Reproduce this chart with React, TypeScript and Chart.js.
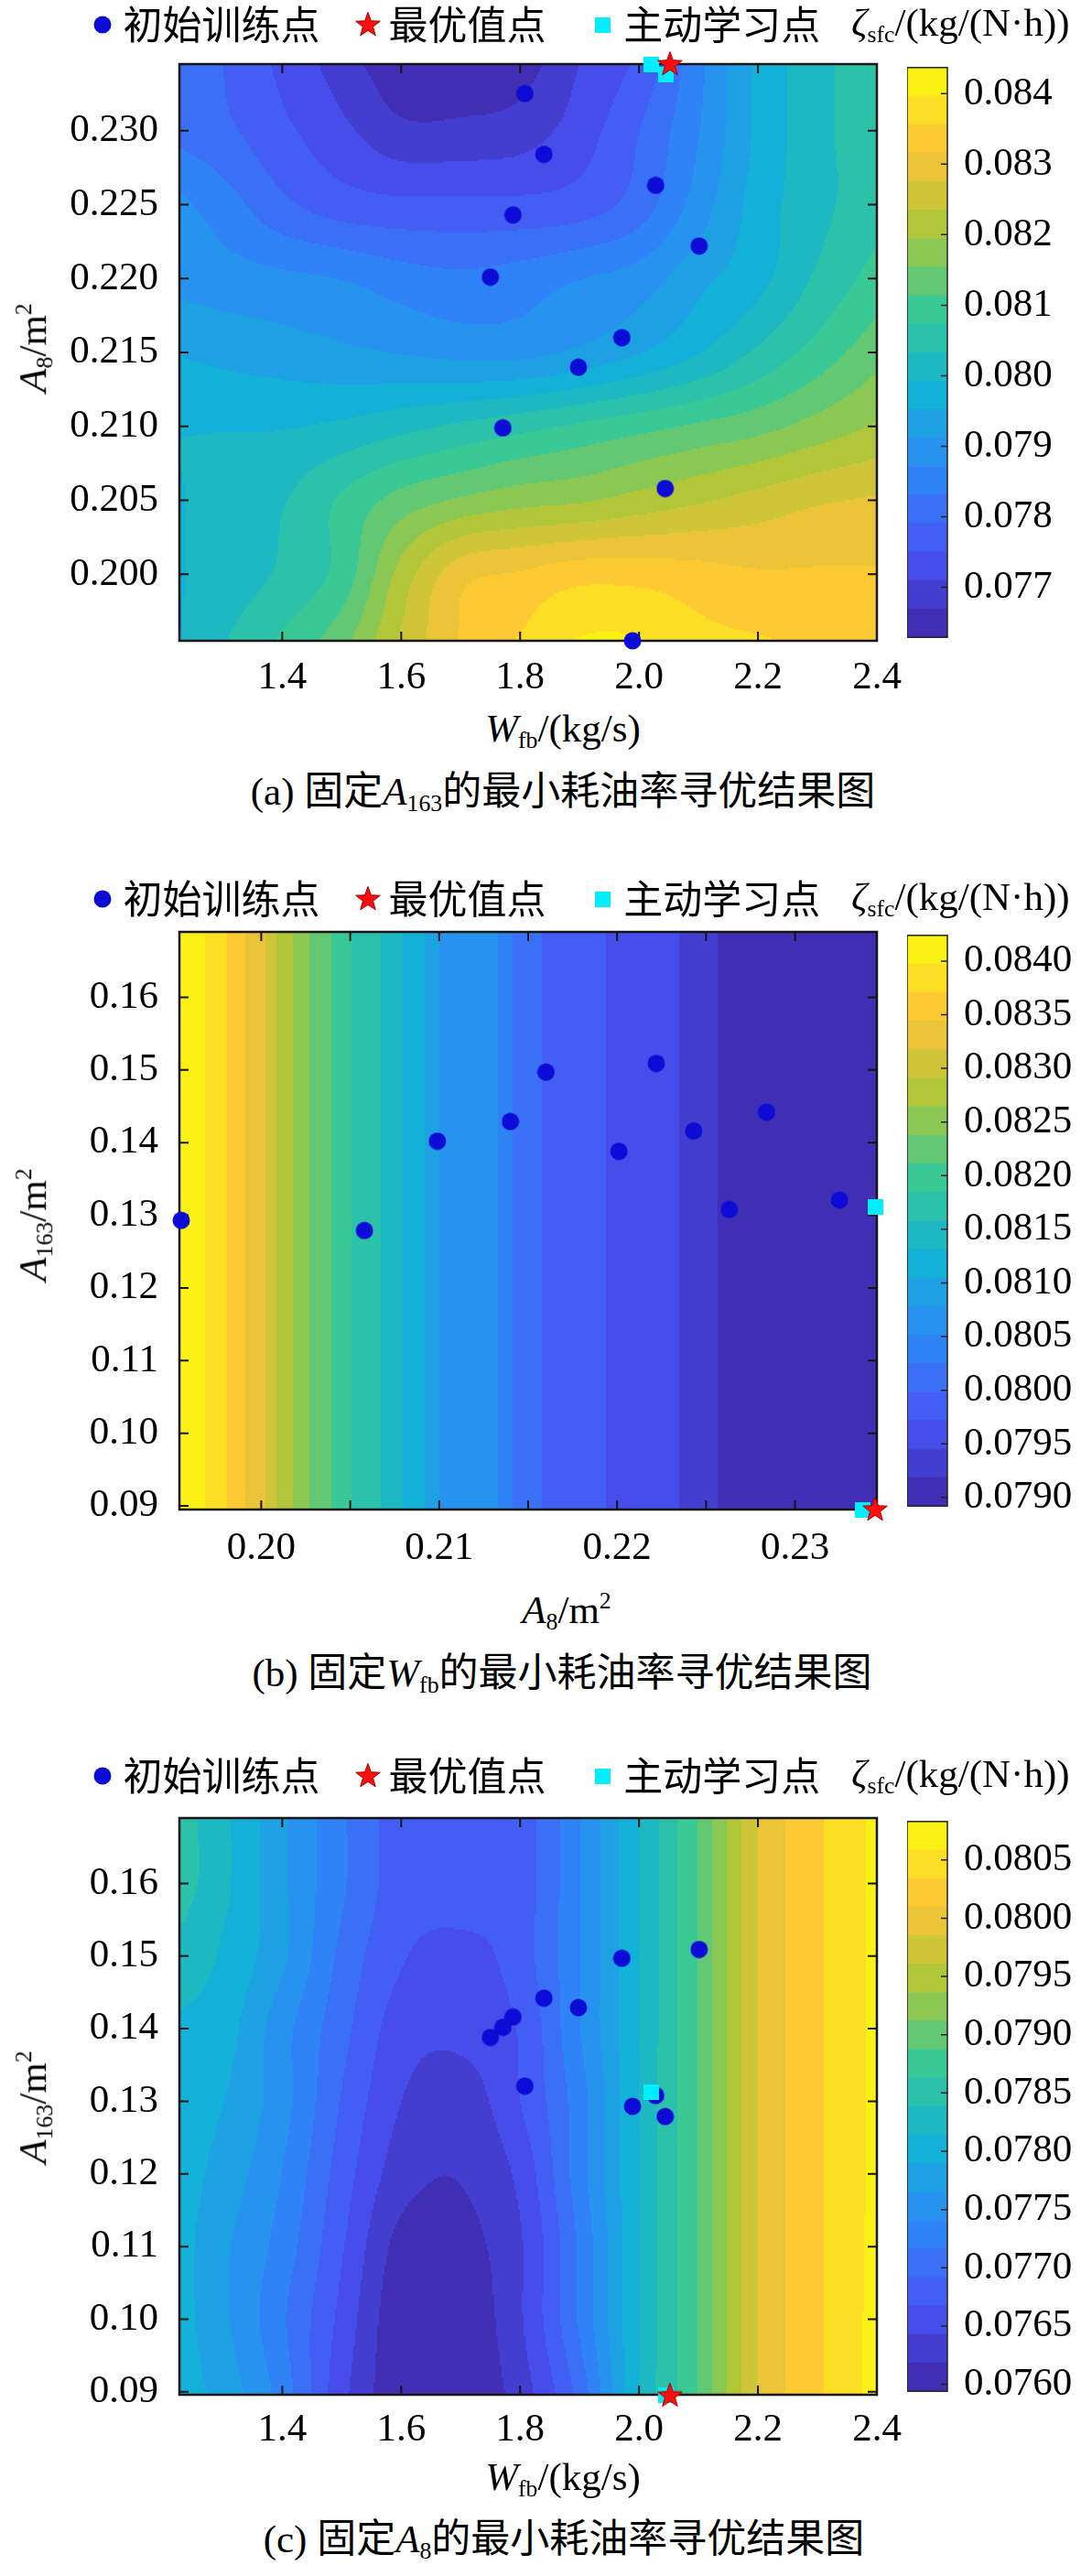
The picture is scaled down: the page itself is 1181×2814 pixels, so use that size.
import React, { useEffect, useRef } from 'react';
import { Chart, registerables } from 'chart.js';

Chart.register(...registerables);

// ---------------- data ----------------
const LEGEND_TRAIN = '初始训练点';
const LEGEND_OPT = '最优值点 ';
const LEGEND_ACTIVE = '主动学习点';

// initial training samples (projections of the same samples in every panel)
const TRAIN_WFB = [1.808, 1.840, 2.028, 1.788, 2.101, 1.750, 1.971, 1.898, 1.771, 2.044, 1.989];
const TRAIN_A8 = [0.2325, 0.2284, 0.2263, 0.2243, 0.2222, 0.2201, 0.2160, 0.2140, 0.2099, 0.2058, 0.1955];
const TRAIN_A163 = [0.1321, 0.1442, 0.1308, 0.1416, 0.1509, 0.1388, 0.1497, 0.1429, 0.1402, 0.1279, 0.1293];

// active-learning samples
const ACTIVE_WFB = [2.02, 2.045];
const ACTIVE_A8 = [0.2345, 0.2338];
const ACTIVE_A163 = [0.1312, 0.0895];

// optimum
const OPT_WFB = [2.052];
const OPT_A8 = [0.2345];
const OPT_A163 = [0.0895];

// panel (a): zeta field over Wfb (columns) x A8 (rows, ascending)
const A_GRID_WFB = [1.227, 1.3, 1.4, 1.5, 1.6, 1.7, 1.8, 1.9, 2.0, 2.1, 2.2, 2.3, 2.4];
const A_GRID_A8 = [0.1955, 0.200, 0.205, 0.210, 0.215, 0.220, 0.225, 0.230, 0.2345];
const A_GRID_ZETA = [
  [0.0799, 0.0803, 0.0808, 0.0814, 0.0824, 0.0832, 0.0836, 0.0840, 0.0840, 0.0837, 0.0836, 0.0835, 0.0835],
  [0.0799, 0.0801, 0.0804, 0.0809, 0.0821, 0.0830, 0.0832, 0.0834, 0.0834, 0.0833, 0.0832, 0.0832, 0.0832],
  [0.0799, 0.0801, 0.0803, 0.0808, 0.0813, 0.0816, 0.0818, 0.0819, 0.0821, 0.0823, 0.0825, 0.0827, 0.0828],
  [0.0799, 0.0799, 0.0799, 0.0800, 0.0802, 0.0804, 0.0806, 0.0808, 0.0810, 0.0812, 0.0814, 0.0817, 0.0820],
  [0.0795, 0.0794, 0.0793, 0.0792, 0.0791, 0.0790, 0.0790, 0.0792, 0.0795, 0.0799, 0.0804, 0.0809, 0.0814],
  [0.0790, 0.0789, 0.0788, 0.0787, 0.0785, 0.0784, 0.0785, 0.0787, 0.0789, 0.0794, 0.0798, 0.0804, 0.0809],
  [0.0788, 0.0785, 0.0780, 0.0777, 0.0776, 0.0776, 0.0776, 0.0777, 0.0781, 0.0789, 0.0797, 0.0802, 0.0806],
  [0.0782, 0.0780, 0.0776, 0.0772, 0.0768, 0.0768, 0.0769, 0.0773, 0.0779, 0.0787, 0.0796, 0.0802, 0.0806],
  [0.0781, 0.0779, 0.0774, 0.0769, 0.0764, 0.0764, 0.0765, 0.0771, 0.0776, 0.0786, 0.0796, 0.0802, 0.0806],
];

// panel (b): zeta depends on A8 only (vertical bands)
const B_PROFILE_A8 = [0.1954, 0.1969, 0.1981, 0.1991, 0.2002, 0.2009, 0.2018, 0.2027, 0.2039, 0.2050, 0.2067,
  0.2080, 0.2092, 0.2100, 0.2133, 0.2141, 0.2158, 0.2193, 0.2235, 0.2255, 0.2346];
const B_PROFILE_ZETA = [0.08420, 0.08397, 0.08371, 0.08344, 0.08318, 0.08291, 0.08264, 0.08238, 0.08211, 0.08185, 0.08158,
  0.08131, 0.08105, 0.08078, 0.08052, 0.08025, 0.07998, 0.07972, 0.07945, 0.07919, 0.07900];

// panel (c): zeta field over Wfb (columns) x A163 (rows, ascending)
const C_GRID_WFB = [1.227, 1.3, 1.4, 1.5, 1.6, 1.7, 1.8, 1.9, 2.0, 2.1, 2.2, 2.3, 2.4];
const C_GRID_A163 = [0.0896, 0.10, 0.11, 0.12, 0.13, 0.14, 0.15, 0.16, 0.169];
const C_GRID_ZETA = [
  [0.0780, 0.0778, 0.0773, 0.0765, 0.07600, 0.07598, 0.0763, 0.0770, 0.07815, 0.0789, 0.07985, 0.0803, 0.08068],
  [0.0780, 0.0777, 0.0772, 0.0766, 0.0760, 0.0760, 0.0764, 0.0772, 0.07815, 0.0789, 0.07985, 0.0803, 0.08067],
  [0.0780, 0.0777, 0.0773, 0.0767, 0.0761, 0.0761, 0.0764, 0.0772, 0.07815, 0.0789, 0.07985, 0.0803, 0.08066],
  [0.0780, 0.0778, 0.0774, 0.0768, 0.0763, 0.0762, 0.0765, 0.0773, 0.07815, 0.0789, 0.07985, 0.0803, 0.08065],
  [0.0780, 0.0779, 0.0775, 0.0769, 0.07643, 0.0763, 0.07667, 0.0773, 0.07815, 0.0789, 0.07985, 0.0803, 0.08065],
  [0.0781, 0.0780, 0.0775, 0.0770, 0.07655, 0.0765, 0.0767, 0.0774, 0.07815, 0.0789, 0.07985, 0.0803, 0.08065],
  [0.0783, 0.0781, 0.0777, 0.0771, 0.0767, 0.0766, 0.0768, 0.0774, 0.07815, 0.0789, 0.07985, 0.0803, 0.08065],
  [0.0785, 0.0782, 0.0777, 0.0772, 0.0768, 0.0768, 0.0768, 0.0774, 0.07815, 0.0789, 0.07985, 0.0803, 0.08065],
  [0.0785, 0.0782, 0.0777, 0.0772, 0.0768, 0.0768, 0.0768, 0.0774, 0.07815, 0.0789, 0.07985, 0.0803, 0.08065],
];

// colour-bar ranges and ticks
const A_CB_RANGE = [0.07629, 0.08437];
const A_CB_TICKS = [0.077, 0.078, 0.079, 0.080, 0.081, 0.082, 0.083, 0.084];
const B_CB_RANGE = [0.07892, 0.08424];
const B_CB_TICKS = [0.0790, 0.0795, 0.0800, 0.0805, 0.0810, 0.0815, 0.0820, 0.0825, 0.0830, 0.0835, 0.0840];
const C_CB_RANGE = [0.07594, 0.08083];
const C_CB_TICKS = [0.0760, 0.0765, 0.0770, 0.0775, 0.0780, 0.0785, 0.0790, 0.0795, 0.0800, 0.0805];
const BAND_COUNT = 20;

// axis ranges and ticks
const A_X_RANGE = [1.227, 2.4];
const A_Y_RANGE = [0.1955, 0.2345];
const A_X_TICKS = [1.4, 1.6, 1.8, 2.0, 2.2, 2.4];
const A_Y_TICKS = [0.200, 0.205, 0.210, 0.215, 0.220, 0.225, 0.230];
const B_X_RANGE = [0.1954, 0.2346];
const B_Y_RANGE = [0.0895, 0.169];
const B_X_TICKS = [0.200, 0.205, 0.210, 0.215, 0.220, 0.225, 0.230];
const B_Y_TICKS = [0.09, 0.10, 0.11, 0.12, 0.13, 0.14, 0.15, 0.16];
const C_X_RANGE = [1.227, 2.4];
const C_Y_RANGE = [0.0896, 0.169];
const C_X_TICKS = [1.4, 1.6, 1.8, 2.0, 2.2, 2.4];
const C_Y_TICKS = [0.09, 0.10, 0.11, 0.12, 0.13, 0.14, 0.15, 0.16];

// ---------------- styles ----------------
const SERIF = "'Liberation Serif', 'Times New Roman', serif";
const CJK = "'Noto Sans CJK SC', sans-serif";
const MIXED = "'Liberation Serif', 'Noto Sans CJK SC', serif";
const FONT_SIZE = 43;
const PAGE_W = 1181;
const PAGE_H = 2814;
const PLOT_LEFT = 196;
const PLOT_RIGHT = 958;
const CB_LEFT = 991;
const CB_RIGHT = 1035;
const LEGEND_PAD = 51.5;
const LEGEND_FIRST_X = 112;
const X_AXIS_H = 70;
const TRAIN_COLOR = 'rgb(12,12,214)';
const ACTIVE_COLOR = 'rgb(0,238,255)';
const PARULA_STOPS = [
  [62, 38, 168], [72, 82, 244], [46, 135, 247], [18, 177, 214],
  [55, 200, 151], [171, 199, 57], [254, 195, 56], [249, 251, 14],
];

function parula(t: number): string {
  const n = PARULA_STOPS.length - 1;
  const f = Math.max(0, Math.min(1, t)) * n;
  const i = Math.min(Math.floor(f), n - 1);
  const r = f - i;
  const a = PARULA_STOPS[i];
  const b = PARULA_STOPS[i + 1];
  const c = a.map((v, k) => Math.round(v + (b[k] - v) * r));
  return `rgb(${c[0]},${c[1]},${c[2]})`;
}
const BAND_COLORS = Array.from({ length: BAND_COUNT }, (_, k) => parula((k + 0.5) / BAND_COUNT));

function locate(xs: number[], x: number) {
  const n = xs.length;
  let i = 0;
  while (i < n - 2 && x > xs[i + 1]) i++;
  const t = Math.max(0, Math.min(1, (x - xs[i]) / (xs[i + 1] - xs[i])));
  return { i, t };
}
function interp1(xs: number[], vs: number[], x: number): number {
  const { i, t } = locate(xs, x);
  return vs[i] + t * (vs[i + 1] - vs[i]);
}
// smooth (Catmull-Rom) interpolation through the read values
function smooth1(xs: number[], vs: number[], x: number): number {
  const { i, t } = locate(xs, x);
  const n = vs.length;
  const p1 = vs[i];
  const p2 = vs[i + 1];
  const p0 = i > 0 ? vs[i - 1] : 2 * p1 - p2;
  const p3 = i + 2 < n ? vs[i + 2] : 2 * p2 - p1;
  const t2 = t * t;
  const t3 = t2 * t;
  return 0.5 * (2 * p1 + (-p0 + p2) * t + (2 * p0 - 5 * p1 + 4 * p2 - p3) * t2 + (-p0 + 3 * p1 - 3 * p2 + p3) * t3);
}
function gridField(xs: number[], ys: number[], grid: number[][]) {
  return (x: number, y: number) => smooth1(ys, grid.map((row) => smooth1(xs, row, x)), y);
}
type Field = (x: number, y: number) => number;

const fieldA: Field = gridField(A_GRID_WFB, A_GRID_A8, A_GRID_ZETA);
const fieldB: Field = (x: number) => interp1(B_PROFILE_A8, B_PROFILE_ZETA, x);
const fieldC: Field = gridField(C_GRID_WFB, C_GRID_A163, C_GRID_ZETA);

const pts = (xs: number[], ys: number[]) => xs.map((x, i) => ({ x, y: ys[i] }));

// ---------------- marker images ----------------
function makeDot() {
  const c = document.createElement('canvas');
  c.width = 20; c.height = 20;
  const g = c.getContext('2d')!;
  g.fillStyle = TRAIN_COLOR;
  g.beginPath(); g.arc(10, 10, 9.5, 0, Math.PI * 2); g.fill();
  return c;
}
function makeSquare() {
  const c = document.createElement('canvas');
  c.width = 17; c.height = 17;
  const g = c.getContext('2d')!;
  g.fillStyle = ACTIVE_COLOR;
  g.fillRect(0, 0, 17, 17);
  return c;
}
function makeStar() {
  const c = document.createElement('canvas');
  c.width = 30; c.height = 30;
  const g = c.getContext('2d')!;
  g.beginPath();
  for (let i = 0; i < 10; i++) {
    const r = i % 2 === 0 ? 14 : 5.8;
    const a = -Math.PI / 2 + (i * Math.PI) / 5;
    const x = 15 + r * Math.cos(a);
    const y = 15.5 + r * Math.sin(a);
    if (i === 0) g.moveTo(x, y); else g.lineTo(x, y);
  }
  g.closePath();
  g.fillStyle = '#ff0d0d';
  g.fill();
  g.strokeStyle = '#a00000';
  g.lineWidth = 1;
  g.stroke();
  return c;
}

// ---------------- panel config ----------------
interface PanelCfg {
  id: string;
  chartTop: number;
  chartBottom: number;
  legendY: number;
  xTickPad: number;
  xRange: number[];
  yRange: number[];
  xTicks: number[];
  yTicks: number[];
  xFmt: (v: number) => string;
  yFmt: (v: number) => string;
  train: { x: number; y: number }[];
  active: { x: number; y: number }[];
  opt: { x: number; y: number }[];
  field: Field;
  cbRange: number[];
  cbTicks: number[];
  cbFmt: (v: number) => string;
  xTitle: React.ReactNode;
  xTitlePos: number[];
  yTitle: React.ReactNode;
  yTitleY: number;
  caption: React.ReactNode;
  captionPos: number[];
}

const Sub = ({ children }: { children: React.ReactNode }) => (
  <span style={{ fontSize: '0.6em', verticalAlign: '-0.28em' }}>{children}</span>
);
const Sup = ({ children }: { children: React.ReactNode }) => (
  <span style={{ fontSize: '0.6em', verticalAlign: '0.62em' }}>{children}</span>
);
const W_FB = (<><i>W</i><Sub>fb</Sub>/(kg/s)</>);
const A8_M2 = (<><i>A</i><Sub>8</Sub>/m<Sup>2</Sup></>);
const A163_M2 = (<><i>A</i><Sub>163</Sub>/m<Sup>2</Sup></>);

const fmt = (d: number) => (v: number) => Number(v).toFixed(d);
const isMajorB = (v: number) => Math.abs(v * 100 - Math.round(v * 100)) < 1e-6;

const PANELS: PanelCfg[] = [
  {
    id: 'a', chartTop: 70, chartBottom: 700, legendY: 27, xTickPad: 14.7,
    xRange: A_X_RANGE, yRange: A_Y_RANGE, xTicks: A_X_TICKS, yTicks: A_Y_TICKS,
    xFmt: fmt(1), yFmt: fmt(3),
    train: pts(TRAIN_WFB, TRAIN_A8), active: pts(ACTIVE_WFB, ACTIVE_A8), opt: pts(OPT_WFB, OPT_A8),
    field: fieldA, cbRange: A_CB_RANGE, cbTicks: A_CB_TICKS, cbFmt: fmt(3),
    xTitle: W_FB, xTitlePos: [615, 798], yTitle: A8_M2, yTitleY: 380,
    caption: (<>(a) 固定<i>A</i><Sub>163</Sub>的最小耗油率寻优结果图</>), captionPos: [615, 867],
  },
  {
    id: 'b', chartTop: 1018, chartBottom: 1649, legendY: 982, xTickPad: 17.2,
    xRange: B_X_RANGE, yRange: B_Y_RANGE, xTicks: B_X_TICKS, yTicks: B_Y_TICKS,
    xFmt: (v: number) => (isMajorB(v) ? v.toFixed(2) : ''), yFmt: fmt(2),
    train: pts(TRAIN_A8, TRAIN_A163), active: pts(ACTIVE_A8, ACTIVE_A163), opt: pts(OPT_A8, OPT_A163),
    field: fieldB, cbRange: B_CB_RANGE, cbTicks: B_CB_TICKS, cbFmt: fmt(4),
    xTitle: A8_M2, xTitlePos: [619, 1761], yTitle: A163_M2, yTitleY: 1338,
    caption: (<>(b) 固定<i>W</i><Sub>fb</Sub>的最小耗油率寻优结果图</>), captionPos: [614, 1830],
  },
  {
    id: 'c', chartTop: 1986, chartBottom: 2616, legendY: 1940, xTickPad: 12.6,
    xRange: C_X_RANGE, yRange: C_Y_RANGE, xTicks: C_X_TICKS, yTicks: C_Y_TICKS,
    xFmt: fmt(1), yFmt: fmt(2),
    train: pts(TRAIN_WFB, TRAIN_A163), active: pts(ACTIVE_WFB, ACTIVE_A163), opt: pts(OPT_WFB, OPT_A163),
    field: fieldC, cbRange: C_CB_RANGE, cbTicks: C_CB_TICKS, cbFmt: fmt(4),
    xTitle: W_FB, xTitlePos: [615, 2708], yTitle: A163_M2, yTitleY: 2302,
    caption: (<>(c) 固定<i>A</i><Sub>8</Sub>的最小耗油率寻优结果图</>), captionPos: [616, 2776],
  },
];

// ---------------- plugins ----------------
function heatmapPlugin(field: Field, range: number[]) {
  const [lo, hi] = range;
  const bandOf = (v: number) => Math.max(0, Math.min(BAND_COUNT - 1, Math.floor(((v - lo) / (hi - lo)) * BAND_COUNT)));
  return {
    id: 'heatmapFrame',
    beforeDatasetsDraw(chart: any) {
      const { ctx, chartArea: a, scales } = chart;
      const xs = scales.x;
      const ys = scales.y;
      const S = 2;
      ctx.save();
      ctx.beginPath();
      ctx.rect(a.left, a.top, a.right - a.left, a.bottom - a.top);
      ctx.clip();
      const fill = (k: number, px: number, y0: number, y1: number) => {
        ctx.fillStyle = BAND_COLORS[k];
        ctx.fillRect(px, y0, S + 0.6, y1 - y0 + 0.6);
      };
      for (let px = a.left; px < a.right; px += S) {
        const xv = xs.getValueForPixel(Math.min(px + S / 2, a.right));
        let runBand = -1;
        let runStart = a.top;
        for (let py = a.top; py < a.bottom; py += S) {
          const yv = ys.getValueForPixel(Math.min(py + S / 2, a.bottom));
          const k = bandOf(field(xv, yv));
          if (k !== runBand) {
            if (runBand >= 0) fill(runBand, px, runStart, py);
            runBand = k;
            runStart = py;
          }
        }
        if (runBand >= 0) fill(runBand, px, runStart, a.bottom);
      }
      ctx.restore();

      // frame and inward tick marks
      ctx.save();
      ctx.strokeStyle = '#151515';
      ctx.lineWidth = 2.5;
      ctx.strokeRect(a.left, a.top, a.right - a.left, a.bottom - a.top);
      ctx.lineWidth = 2;
      const L = 10;
      ctx.beginPath();
      xs.ticks.forEach((t: any) => {
        const p = xs.getPixelForValue(t.value);
        ctx.moveTo(p, a.bottom); ctx.lineTo(p, a.bottom - L);
        ctx.moveTo(p, a.top); ctx.lineTo(p, a.top + L);
      });
      ys.ticks.forEach((t: any) => {
        const p = ys.getPixelForValue(t.value);
        ctx.moveTo(a.left, p); ctx.lineTo(a.left + L, p);
        ctx.moveTo(a.right, p); ctx.lineTo(a.right - L, p);
      });
      ctx.stroke();
      ctx.restore();
    },
  };
}

const colorbarFramePlugin = {
  id: 'cbFrame',
  afterDatasetsDraw(chart: any) {
    const { ctx, chartArea: a, scales } = chart;
    ctx.save();
    ctx.strokeStyle = '#222';
    ctx.lineWidth = 1.5;
    ctx.strokeRect(a.left, a.top, a.right - a.left, a.bottom - a.top);
    ctx.beginPath();
    scales.y.ticks.forEach((t: any) => {
      const p = scales.y.getPixelForValue(t.value);
      ctx.moveTo(a.right, p); ctx.lineTo(a.right - 7, p);
    });
    ctx.stroke();
    ctx.restore();
  },
};

// ---------------- components ----------------
const TextAt = ({ x, y, rotate, family, children }: { x: number; y: number; rotate?: boolean; family?: string; children: React.ReactNode }) => (
  <div
    style={{
      position: 'absolute', left: x, top: y,
      transform: `translate(-50%, -50%)${rotate ? ' rotate(-90deg)' : ''}`,
      whiteSpace: 'nowrap', fontFamily: family || SERIF, fontSize: FONT_SIZE, lineHeight: 1.1, color: '#000',
    }}
  >
    {children}
  </div>
);

function Panel({ cfg }: { cfg: PanelCfg }) {
  const mainRef = useRef<HTMLCanvasElement>(null);
  const cbRef = useRef<HTMLCanvasElement>(null);

  const canvasTop = cfg.legendY - LEGEND_PAD - FONT_SIZE / 2;
  const mainH = cfg.chartBottom - canvasTop + X_AXIS_H;
  const gap = cfg.chartTop - cfg.legendY - (FONT_SIZE / 2 + 10);
  const padLeft = LEGEND_FIRST_X - 1 - LEGEND_PAD;
  const cbPad = 40;
  const cbH = cfg.chartBottom - cfg.chartTop + 2 * cbPad;

  useEffect(() => {
    const dot = makeDot();
    const star = makeStar();
    const square = makeSquare();
    const tickFont = { family: SERIF, size: FONT_SIZE };
    const legendRank = [1, 2, 0];

    const main = new Chart(mainRef.current!, {
      type: 'scatter',
      data: {
        datasets: [
          { label: LEGEND_OPT, data: cfg.opt, pointStyle: star as any, pointRadius: 14, clip: false as any },
          { label: LEGEND_ACTIVE, data: cfg.active, pointStyle: square as any, pointRadius: 9, clip: false as any },
          { label: LEGEND_TRAIN, data: cfg.train, pointStyle: dot as any, pointRadius: 10, clip: false as any },
        ],
      },
      options: {
        animation: false,
        responsive: false,
        maintainAspectRatio: false,
        events: [],
        layout: { padding: { left: padLeft, right: PAGE_W - PLOT_RIGHT, top: 0, bottom: 0 } },
        plugins: {
          tooltip: { enabled: false },
          legend: {
            display: true,
            position: 'top',
            align: 'start',
            labels: {
              usePointStyle: true,
              pointStyleWidth: 2,
              padding: LEGEND_PAD,
              color: '#000',
              font: { family: CJK, size: FONT_SIZE },
              sort: (a: any, b: any) => legendRank[a.datasetIndex] - legendRank[b.datasetIndex],
            },
          },
        },
        scales: {
          x: {
            type: 'linear', position: 'bottom', min: cfg.xRange[0], max: cfg.xRange[1],
            grid: { display: false, drawTicks: false }, border: { display: false },
            ticks: {
              autoSkip: false, maxRotation: 0, padding: cfg.xTickPad, color: '#000', font: tickFont,
              callback: (v: any) => cfg.xFmt(Number(v)),
            },
            afterBuildTicks: (axis: any) => { axis.ticks = cfg.xTicks.map((v) => ({ value: v })); },
            afterFit: (s: any) => { s.height = X_AXIS_H; },
          },
          xTop: {
            type: 'linear', position: 'top', display: true,
            grid: { display: false, drawTicks: false }, border: { display: false },
            ticks: { display: false },
            afterFit: (s: any) => { s.height = gap; },
          },
          y: {
            type: 'linear', position: 'left', min: cfg.yRange[0], max: cfg.yRange[1],
            grid: { display: false, drawTicks: false }, border: { display: false },
            ticks: {
              autoSkip: false, padding: 23, color: '#000', font: tickFont,
              callback: (v: any) => cfg.yFmt(Number(v)),
            },
            afterBuildTicks: (axis: any) => { axis.ticks = cfg.yTicks.map((v) => ({ value: v })); },
            afterFit: (s: any) => { s.width = PLOT_LEFT - padLeft; },
          },
        } as any,
      },
      plugins: [heatmapPlugin(cfg.field, cfg.cbRange)],
    } as any);

    const edges = Array.from({ length: BAND_COUNT + 1 }, (_, k) => cfg.cbRange[0] + ((cfg.cbRange[1] - cfg.cbRange[0]) * k) / BAND_COUNT);
    const cb = new Chart(cbRef.current!, {
      type: 'bar',
      data: {
        labels: [''],
        datasets: BAND_COLORS.map((c, k) => ({
          data: [[edges[k], edges[k + 1]]],
          backgroundColor: c,
          borderWidth: 0,
          grouped: false,
          barPercentage: 1,
          categoryPercentage: 1,
        })),
      },
      options: {
        animation: false,
        responsive: false,
        maintainAspectRatio: false,
        events: [],
        layout: { padding: { top: cbPad, bottom: cbPad, left: 0, right: 0 } },
        plugins: { legend: { display: false }, tooltip: { enabled: false } },
        scales: {
          x: { display: false },
          y: {
            position: 'right', min: cfg.cbRange[0], max: cfg.cbRange[1],
            grid: { display: false, drawTicks: false }, border: { display: false },
            ticks: {
              autoSkip: false, padding: 18, color: '#000', font: tickFont,
              callback: (v: any) => cfg.cbFmt(Number(v)),
            },
            afterBuildTicks: (axis: any) => { axis.ticks = cfg.cbTicks.map((v) => ({ value: v })); },
            afterFit: (s: any) => { s.width = PAGE_W - CB_RIGHT; },
          },
        } as any,
      },
      plugins: [colorbarFramePlugin],
    } as any);

    return () => {
      main.destroy();
      cb.destroy();
    };
  }, []);

  return (
    <>
      <canvas
        ref={mainRef}
        width={PAGE_W}
        height={mainH}
        style={{ position: 'absolute', left: 0, top: canvasTop, width: PAGE_W, height: mainH }}
      />
      <canvas
        ref={cbRef}
        width={PAGE_W - CB_LEFT}
        height={cbH}
        style={{ position: 'absolute', left: CB_LEFT, top: cfg.chartTop - cbPad, width: PAGE_W - CB_LEFT, height: cbH }}
      />
      <div
        style={{
          position: 'absolute', left: 930, top: cfg.legendY, transform: 'translateY(-50%)',
          whiteSpace: 'nowrap', fontFamily: SERIF, fontSize: FONT_SIZE, lineHeight: 1.1, color: '#000',
        }}
      >
        <i>ζ</i><Sub>sfc</Sub>/(kg/(N·h))
      </div>
      <TextAt x={cfg.xTitlePos[0]} y={cfg.xTitlePos[1]}>{cfg.xTitle}</TextAt>
      <TextAt x={38} y={cfg.yTitleY} rotate>{cfg.yTitle}</TextAt>
      <TextAt x={cfg.captionPos[0]} y={cfg.captionPos[1]} family={MIXED}>{cfg.caption}</TextAt>
    </>
  );
}

export default function App() {
  return (
    <div
      style={{
        position: 'absolute', left: 0, top: 0, width: PAGE_W, height: PAGE_H,
        background: '#fff', overflow: 'hidden',
      }}
    >
      {PANELS.map((p) => (
        <Panel key={p.id} cfg={p} />
      ))}
    </div>
  );
}
